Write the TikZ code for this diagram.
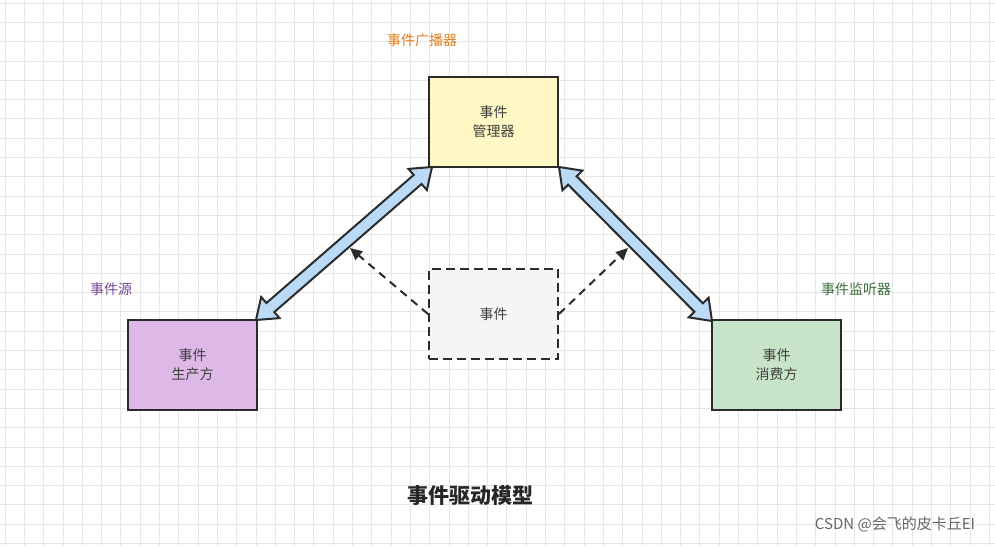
\documentclass[tikz,border=0pt]{standalone}
\usepackage{fontspec}
\setmainfont{Noto Sans CJK SC}
\usetikzlibrary{calc,arrows.meta}
\definecolor{gridc}{HTML}{E6E6E6}
\definecolor{edge}{HTML}{2B2B2B}
\definecolor{blueA}{HTML}{BBDAF5}
\newcommand\blockarrow[2]{%
  \draw[draw=edge,fill=blueA,line width=2pt,line join=miter]
    (#1) -- ($(#1)!19pt!(#2)!14pt!90:(#2)$) -- ($(#1)!19pt!(#2)!6pt!90:(#2)$)
    -- ($(#2)!19pt!(#1)!6pt!-90:(#1)$) -- ($(#2)!19pt!(#1)!14pt!-90:(#1)$)
    -- (#2) -- ($(#2)!19pt!(#1)!14pt!90:(#1)$) -- ($(#2)!19pt!(#1)!6pt!90:(#1)$)
    -- ($(#1)!19pt!(#2)!6pt!-90:(#2)$) -- ($(#1)!19pt!(#2)!14pt!-90:(#2)$) -- cycle;}
\begin{document}
\begin{tikzpicture}[x=1pt,y=-1pt,
  box/.style={draw=edge,line width=2pt,minimum width=129pt,minimum height=90pt,align=center,font=\fontsize{14}{19}\selectfont,text=black!75,anchor=north west},
  lbl/.style={font=\fontsize{14}{16}\selectfont},
  dsh/.style={draw=edge,line width=2pt,dash pattern=on 8pt off 6pt,-{Triangle[length=12pt,width=11pt]}}]
\useasboundingbox (0,0) rectangle (995,546);
\fill[white] (0,0) rectangle (995,546);
\foreach \i in {0,...,52} \draw[gridc,line width=0.8pt] (\i*19.3+5,0) -- (\i*19.3+5,546);
\foreach \j in {0,...,29} \draw[gridc,line width=0.8pt] (0,\j*19.3+3) -- (995,\j*19.3+3);
\node[box,fill={rgb,255:red,255;green,247;blue,196}] (mgr) at (428,76) {事件\\管理器};
\node[box,fill={rgb,255:red,222;green,184;blue,230}] (prod) at (127,319) {事件\\生产方};
\node[box,fill={rgb,255:red,200;green,228;blue,200}] (cons) at (711,319) {事件\\消费方};
\node[box,fill={rgb,255:red,245;green,245;blue,245},dash pattern=on 9pt off 5pt] (evt) at (428,268) {事件};
\coordinate (p1) at ($(prod.north east)+(-2,1)$);
\coordinate (m1) at ($(mgr.south west)+(4,-1)$);
\coordinate (m2) at ($(mgr.south east)+(0,-1)$);
\coordinate (c1) at ($(cons.north west)+(1,2)$);
\blockarrow{p1}{m1}
\blockarrow{m2}{c1}
\coordinate (t1) at (350,248);
\coordinate (t2) at (628,248);
\draw[dsh] (evt.west) -- (t1);
\draw[dsh] (evt.east) -- (t2);
\node[lbl,text={rgb,255:red,226;green,125;blue,30}] (l1) at (422,40) {事件广播器};
\node[lbl,text={rgb,255:red,120;green,70;blue,150}] (l2) at (111,289) {事件源};
\node[lbl,text={rgb,255:red,60;green,110;blue,60}] (l3) at (856,289) {事件监听器};
\node[font=\fontsize{21}{24}\selectfont\bfseries,text=black!85] (tt) at (470,496) {事件驱动模型};
\node[font=\fontsize{15}{18}\selectfont,text=black!60] (cs) at (895,524) {CSDN @会飞的皮卡丘EI};
\end{tikzpicture}
\end{document}
